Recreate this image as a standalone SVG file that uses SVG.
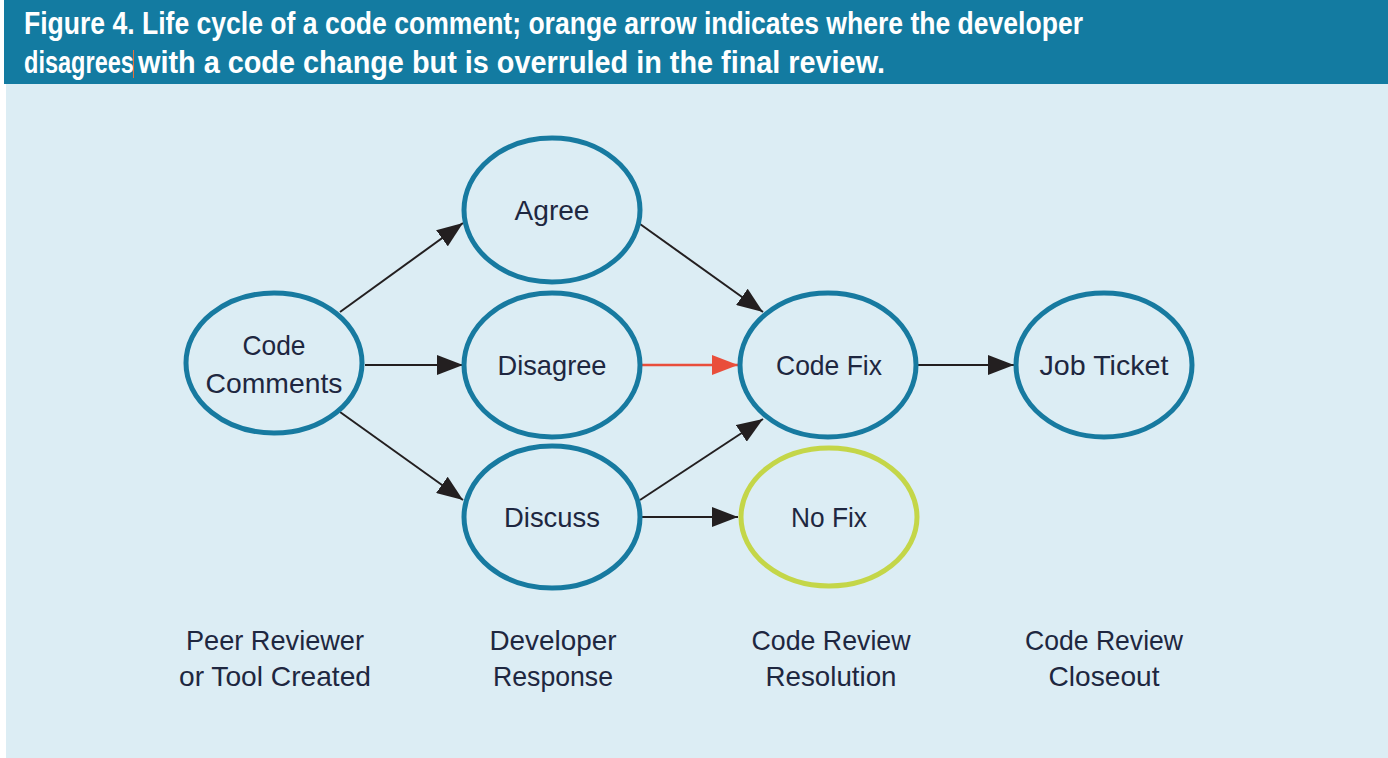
<svg xmlns="http://www.w3.org/2000/svg" width="1388" height="758" viewBox="0 0 1388 758">
<style>
.title{font-family:"Liberation Sans",Arial,sans-serif;font-weight:bold;font-size:31px;fill:#ffffff}
.node{fill:none;stroke:#177aa0;stroke-width:5}
.nofix{fill:none;stroke:#c4d648;stroke-width:5}
.lbl{font-family:"Liberation Sans",Arial,sans-serif;font-size:28px;fill:#1e2740;text-anchor:middle}
.edge{stroke:#231f20;stroke-width:2;fill:none}
.edge-red{stroke:#e94e3b;stroke-width:2.5;fill:none}
</style>
<defs>
<marker id="ah" markerUnits="userSpaceOnUse" markerWidth="26" markerHeight="20" refX="26" refY="10" orient="auto">
<path d="M0,0 L26,10 L0,20 z" fill="#231f20"/>
</marker>
<marker id="ahr" markerUnits="userSpaceOnUse" markerWidth="26" markerHeight="20" refX="26" refY="10" orient="auto">
<path d="M0,0 L26,10 L0,20 z" fill="#e94e3b"/>
</marker>
</defs>
<rect x="0" y="0" width="1388" height="758" fill="#ffffff"/>
<rect x="6" y="84" width="1382" height="674" fill="#dcedf4"/>
<rect x="4" y="0" width="1384" height="84" fill="#137ba1"/>
<g id="title">
<text class="title" x="24" y="34" textLength="1059" lengthAdjust="spacingAndGlyphs">Figure 4. Life cycle of a code comment; orange arrow indicates where the developer</text>
<text class="title" transform="translate(24,73) scale(0.76,1)" x="0" y="0">disagrees</text>
<text class="title" x="138" y="73" textLength="747" lengthAdjust="spacingAndGlyphs">with a code change but is overruled in the final review.</text>
<line x1="133.5" y1="50" x2="133.5" y2="78" stroke="#e8703a" stroke-width="1"/>
</g>
<g id="connectors">
<line class="edge" x1="340" y1="312" x2="463" y2="223" marker-end="url(#ah)"/>
<line class="edge" x1="365" y1="365" x2="463" y2="365" marker-end="url(#ah)"/>
<line class="edge" x1="340" y1="412" x2="463" y2="500" marker-end="url(#ah)"/>
<line class="edge" x1="640" y1="224" x2="763" y2="312" marker-end="url(#ah)"/>
<line class="edge-red" x1="640" y1="365" x2="738" y2="365" marker-end="url(#ahr)"/>
<line class="edge" x1="640" y1="500" x2="763" y2="419" marker-end="url(#ah)"/>
<line class="edge" x1="640" y1="517" x2="738" y2="517" marker-end="url(#ah)"/>
<line class="edge" x1="917" y1="365" x2="1014" y2="365" marker-end="url(#ah)"/>
</g>
<g id="code-comments">
<ellipse class="node" cx="274" cy="363" rx="88" ry="70"/>
<text class="lbl" x="274" y="355" textLength="63" lengthAdjust="spacingAndGlyphs">Code</text>
<text class="lbl" x="274" y="393" textLength="137" lengthAdjust="spacingAndGlyphs">Comments</text>
</g>
<g id="agree">
<ellipse class="node" cx="552" cy="210" rx="88" ry="72"/>
<text class="lbl" x="552" y="220" textLength="75" lengthAdjust="spacingAndGlyphs">Agree</text>
</g>
<g id="disagree">
<ellipse class="node" cx="552" cy="365" rx="88" ry="72"/>
<text class="lbl" x="552" y="375" textLength="109" lengthAdjust="spacingAndGlyphs">Disagree</text>
</g>
<g id="discuss">
<ellipse class="node" cx="552" cy="517" rx="88" ry="71"/>
<text class="lbl" x="552" y="527" textLength="96" lengthAdjust="spacingAndGlyphs">Discuss</text>
</g>
<g id="code-fix">
<ellipse class="node" cx="828" cy="365" rx="88" ry="72"/>
<text class="lbl" x="829" y="375" textLength="106" lengthAdjust="spacingAndGlyphs">Code Fix</text>
</g>
<g id="no-fix">
<ellipse class="nofix" cx="829" cy="517" rx="88" ry="69"/>
<text class="lbl" x="829" y="527" textLength="76" lengthAdjust="spacingAndGlyphs">No Fix</text>
</g>
<g id="job-ticket">
<ellipse class="node" cx="1104" cy="365" rx="88" ry="72"/>
<text class="lbl" x="1104" y="375" textLength="129" lengthAdjust="spacingAndGlyphs">Job Ticket</text>
</g>
<g id="col-peer">
<text class="lbl" x="275" y="650" textLength="178" lengthAdjust="spacingAndGlyphs">Peer Reviewer</text>
<text class="lbl" x="275" y="686" textLength="192" lengthAdjust="spacingAndGlyphs">or Tool Created</text>
</g>
<g id="col-developer">
<text class="lbl" x="553" y="650" textLength="127" lengthAdjust="spacingAndGlyphs">Developer</text>
<text class="lbl" x="553" y="686" textLength="120" lengthAdjust="spacingAndGlyphs">Response</text>
</g>
<g id="col-resolution">
<text class="lbl" x="831" y="650" textLength="159" lengthAdjust="spacingAndGlyphs">Code Review</text>
<text class="lbl" x="831" y="686" textLength="131" lengthAdjust="spacingAndGlyphs">Resolution</text>
</g>
<g id="col-closeout">
<text class="lbl" x="1104" y="650" textLength="158" lengthAdjust="spacingAndGlyphs">Code Review</text>
<text class="lbl" x="1104" y="686" textLength="111" lengthAdjust="spacingAndGlyphs">Closeout</text>
</g>
</svg>
